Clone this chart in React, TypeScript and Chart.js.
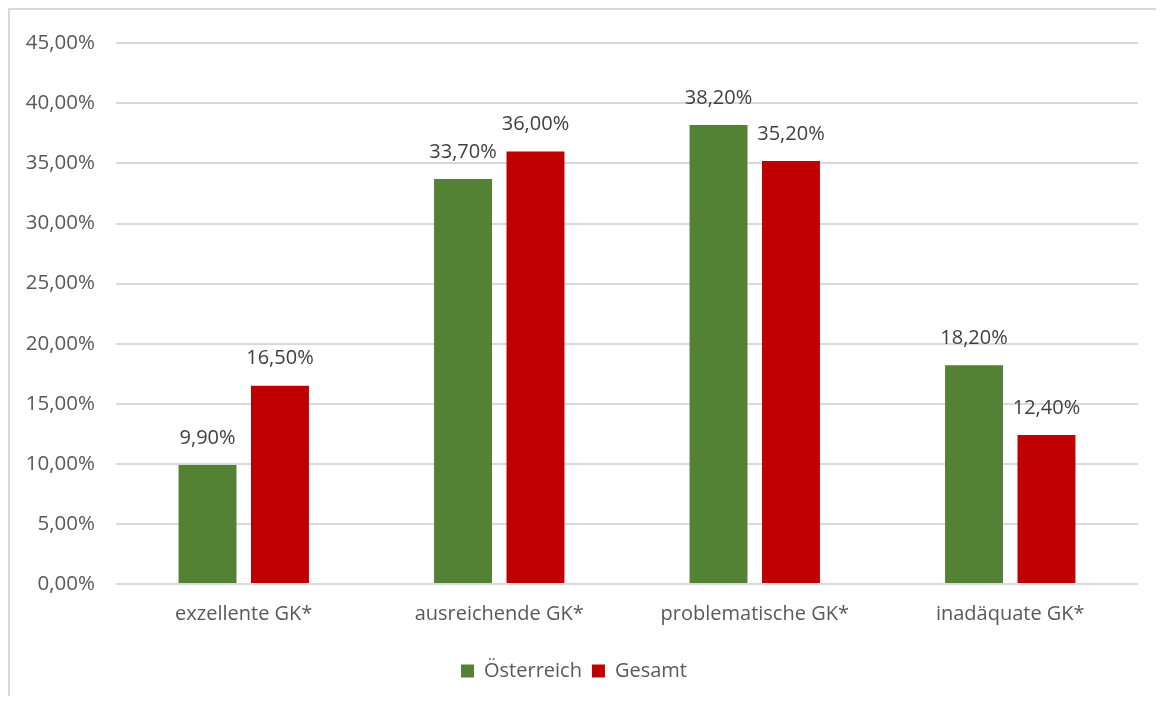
import React, { useEffect, useRef } from "react";
import { Chart, registerables } from "chart.js";

Chart.register(...registerables);

const categories = ["exzellente GK*", "ausreichende GK*", "problematische GK*", "inadäquate GK*"];
const seriesNames = ["Österreich", "Gesamt"];
const oesterreich = [9.9, 33.7, 38.2, 18.2];
const gesamt = [16.5, 36.0, 35.2, 12.4];
const seriesColors = ["#548235", "#C00000"];
const yMin = 0;
const yMax = 45;
const yStep = 5;

const fmt = (v: number) => v.toFixed(2).replace(".", ",") + "%";
const FONT = "'Open Sans', sans-serif";

const dataLabelPlugin = {
  id: "dataLabels",
  afterDatasetsDraw(chart: any) {
    const ctx = chart.ctx;
    ctx.save();
    ctx.font = `20px ${FONT}`;
    ctx.fillStyle = "#404040";
    ctx.textAlign = "center";
    ctx.textBaseline = "middle";
    chart.data.datasets.forEach((ds: any, i: number) => {
      const meta = chart.getDatasetMeta(i);
      meta.data.forEach((bar: any, j: number) => {
        ctx.fillText(fmt(ds.data[j]), bar.x, bar.y - 27);
      });
    });
    ctx.restore();
  },
};

export default function App() {
  const ref = useRef<HTMLCanvasElement>(null);
  useEffect(() => {
    if (!ref.current) return;
    const chart = new Chart(ref.current, {
      type: "bar",
      data: {
        labels: categories,
        datasets: [
          { label: seriesNames[0], data: oesterreich, backgroundColor: seriesColors[0] },
          { label: seriesNames[1], data: gesamt, backgroundColor: seriesColors[1] },
        ],
      },
      options: {
        animation: false,
        responsive: false,
        datasets: { bar: { categoryPercentage: 0.567, barPercentage: 0.8 } } as any,
        layout: { padding: { top: 28, right: 26, left: 0, bottom: 13 } },
        scales: {
          x: {
            grid: { display: false, drawTicks: false },
            border: { display: false },
            ticks: { color: "#595959", font: { family: FONT, size: 20 }, padding: 18 },
            afterFit: (s: any) => { s.height = 67; },
          },
          y: {
            min: yMin,
            max: yMax,
            grid: { color: "#d9d9d9", lineWidth: 2, drawTicks: false },
            border: { display: false },
            ticks: {
              stepSize: yStep,
              color: "#595959",
              font: { family: FONT, size: 20.5 },
              padding: 21,
              callback: (v: any) => fmt(Number(v)),
            },
            afterFit: (s: any) => { s.width = 106; },
          },
        },
        plugins: {
          legend: {
            position: "bottom",
            labels: {
              color: "#595959",
              font: { family: FONT, size: 20 },
              boxWidth: 13,
              boxHeight: 13,
              padding: 10,
            },
          },
          tooltip: { enabled: false },
        },
      },
      plugins: [dataLabelPlugin],
    });
    return () => chart.destroy();
  }, []);
  return (
    <div
      style={{
        marginRight: -8,
        marginBottom: -8,
        height: 694,
        borderLeft: "2px solid #d9d9d9",
        borderTop: "2px solid #d9d9d9",
        background: "#fff",
      }}
    >
      <canvas ref={ref} width={1154} height={694} style={{ display: "block" }} />
    </div>
  );
}
